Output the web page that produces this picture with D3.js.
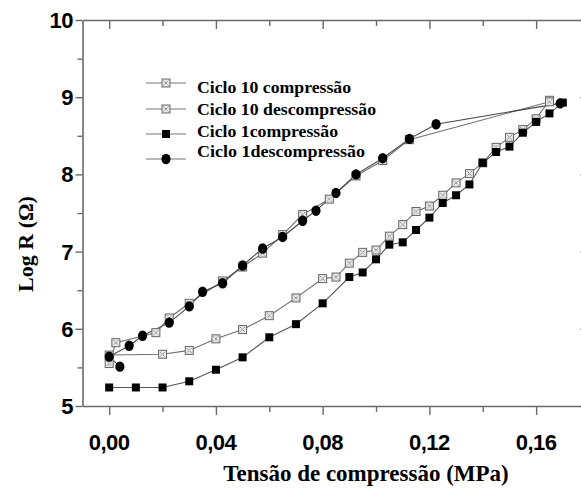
<!DOCTYPE html>
<html>
<head>
<meta charset="utf-8">
<script src="https://cdn.jsdelivr.net/npm/d3@7/dist/d3.min.js"></script>
<style>
  html, body { margin: 0; padding: 0; background: #fff; }
  svg { display: block; }
</style>
</head>
<body>
<svg id="chart" width="581" height="488"></svg>
<script>
// Stress (MPa) and log resistance readings for each loading run
const c10CompStress = [0, .02, .03, .04, .05, .06, .07, .08, .085, .09, .095, .10, .105, .11, .115, .12, .125, .13, .135, .14, .145, .15, .155, .16, .165];
const c10CompLogR   = [5.66, 5.67, 5.72, 5.87, 5.99, 6.17, 6.40, 6.65, 6.67, 6.85, 6.99, 7.02, 7.20, 7.35, 7.52, 7.59, 7.73, 7.89, 8.01, 8.15, 8.35, 8.48, 8.58, 8.72, 8.96];

const c10DecStress = [.165, .1125, .1025, .0925, .0825, .0725, .065, .0575, .05, .0425, .03, .0225, .0175, .0025, 0];
const c10DecLogR   = [8.94, 8.45, 8.18, 7.98, 7.68, 7.48, 7.22, 6.98, 6.80, 6.62, 6.33, 6.14, 5.95, 5.82, 5.55];

const c1CompStress = [0, .01, .02, .03, .04, .05, .06, .07, .08, .09, .095, .10, .105, .11, .115, .12, .125, .13, .135, .14, .145, .15, .155, .16, .165, .17];
const c1CompLogR   = [5.24, 5.24, 5.24, 5.32, 5.47, 5.63, 5.89, 6.06, 6.33, 6.67, 6.73, 6.90, 7.09, 7.12, 7.28, 7.44, 7.63, 7.73, 7.87, 8.15, 8.29, 8.36, 8.54, 8.68, 8.79, 8.93];

const c1DecStress = [.169, .1225, .1125, .1025, .0925, .085, .0775, .0725, .065, .0575, .05, .0425, .035, .03, .0225, .0125, .0075, 0, .004];
const c1DecLogR   = [8.92, 8.65, 8.46, 8.21, 8.00, 7.76, 7.53, 7.40, 7.19, 7.04, 6.82, 6.59, 6.48, 6.29, 6.08, 5.91, 5.78, 5.64, 5.51];

const seriesNames = ["Ciclo 10 compressão", "Ciclo 10 descompressão", "Ciclo 1compressão", "Ciclo 1descompressão"];
const xTickValues = [0, .02, .04, .06, .08, .10, .12, .14, .16, .18];
const xLabelValues = [0, .04, .08, .12, .16];
const yTickValues = [5, 5.5, 6, 6.5, 7, 7.5, 8, 8.5, 9, 9.5, 10];
const yLabelValues = [5, 6, 7, 8, 9, 10];
const xTitle = "Tensão de compressão (MPa)";
const yTitle = "Log R (Ω)";

const svg = d3.select("#chart");

const x = d3.scaleLinear().domain([-0.01, 0.18]).range([82.5, 589.5]);
const y = d3.scaleLinear().domain([5, 10]).range([406, 20]);

const axisColor = "#6a6a6a";
const fmt = d => d3.format(".2f")(d).replace(".", ",");

// frame: bottom and left axes with outward ticks, top and right with inward ticks
function styleAxis(g) {
  g.select(".domain").attr("stroke", axisColor).attr("stroke-width", 1.6);
  g.selectAll(".tick line").attr("stroke", axisColor).attr("stroke-width", 1.4);
}
const isMajorX = d => xLabelValues.some(v => Math.abs(v - d) < 1e-9);
const isMajorY = d => Number.isInteger(d);

const axisBottomG = svg.append("g").attr("transform", `translate(0,${y(5)})`)
  .call(d3.axisBottom(x).tickValues(xTickValues).tickSizeOuter(0).tickFormat(""));
axisBottomG.selectAll(".tick line").attr("y2", d => isMajorX(d) ? 9 : 6);
styleAxis(axisBottomG);

const axisTopG = svg.append("g").attr("transform", `translate(0,${y(10)})`)
  .call(d3.axisTop(x).tickValues(xTickValues).tickSizeOuter(0).tickFormat(""));
axisTopG.selectAll(".tick line").attr("y2", d => isMajorX(d) ? 9 : 6);
styleAxis(axisTopG);

const axisLeftG = svg.append("g").attr("transform", `translate(${x(-0.01)},0)`)
  .call(d3.axisLeft(y).tickValues(yTickValues).tickSizeOuter(0).tickFormat(""));
axisLeftG.selectAll(".tick line").attr("x2", d => isMajorY(d) ? -7 : -5);
styleAxis(axisLeftG);

const axisRightG = svg.append("g").attr("transform", `translate(${x(0.18)},0)`)
  .call(d3.axisRight(y).tickValues(yTickValues).tickSizeOuter(0).tickFormat(""));
axisRightG.selectAll(".tick line").attr("x2", d => isMajorY(d) ? -9 : -6);
styleAxis(axisRightG);

// tick labels
svg.append("g").selectAll("text").data(xLabelValues).join("text")
  .attr("x", d => x(d)).attr("y", 450)
  .attr("text-anchor", "middle")
  .attr("font-family", "Liberation Sans, Arial, sans-serif")
  .attr("font-weight", "bold").attr("font-size", 22)
  .attr("letter-spacing", -0.5)
  .text(fmt);

svg.append("g").selectAll("text").data(yLabelValues).join("text")
  .attr("x", 73).attr("y", d => y(d) + 8)
  .attr("text-anchor", "end")
  .attr("font-family", "Liberation Sans, Arial, sans-serif")
  .attr("font-weight", "bold").attr("font-size", 22)
  .attr("letter-spacing", -0.5)
  .text(d => d);

// axis titles
svg.append("text")
  .attr("x", 366).attr("y", 481)
  .attr("text-anchor", "middle")
  .attr("font-family", "Liberation Serif, Times New Roman, serif")
  .attr("font-weight", "bold").attr("font-size", 23)
  .text(xTitle);

svg.append("text")
  .attr("transform", `translate(33,244) rotate(-90)`)
  .attr("text-anchor", "middle")
  .attr("font-family", "Liberation Serif, Times New Roman, serif")
  .attr("font-weight", "bold").attr("font-size", 22)
  .text(yTitle);

// marker drawing
function crossedSquare(g, cx, cy, s) {
  const h = s / 2;
  g.append("rect").attr("x", cx - h).attr("y", cy - h).attr("width", s).attr("height", s)
    .attr("fill", "#e6e6e6").attr("stroke", "#666").attr("stroke-width", 1);
  const i = 1.6;
  g.append("path")
    .attr("d", `M${cx - h + i},${cy - h + i}L${cx + h - i},${cy + h - i}M${cx + h - i},${cy - h + i}L${cx - h + i},${cy + h - i}`)
    .attr("stroke", "#7a7a7a").attr("stroke-width", 1).attr("stroke-dasharray", "1.2,0.8");
}
function filledSquare(g, cx, cy, s) {
  g.append("rect").attr("x", cx - s / 2).attr("y", cy - s / 2).attr("width", s).attr("height", s)
    .attr("fill", "#000");
}
function filledCircle(g, cx, cy) {
  g.append("ellipse").attr("cx", cx).attr("cy", cy).attr("rx", 4.6).attr("ry", 5.2).attr("fill", "#000");
}

const series = [
  { name: seriesNames[0], xs: c10CompStress, ys: c10CompLogR, marker: (g, a, b) => crossedSquare(g, a, b, 8), line: "#707070" },
  { name: seriesNames[1], xs: c10DecStress,  ys: c10DecLogR,  marker: (g, a, b) => crossedSquare(g, a, b, 8), line: "#707070" },
  { name: seriesNames[2], xs: c1CompStress,  ys: c1CompLogR,  marker: (g, a, b) => filledSquare(g, a, b, 8),  line: "#555" },
  { name: seriesNames[3], xs: c1DecStress,   ys: c1DecLogR,   marker: (g, a, b) => filledCircle(g, a, b),     line: "#444" }
];

const lineGen = d3.line().x(d => x(d[0])).y(d => y(d[1]));
const plot = svg.append("g");

series.forEach(s => {
  const pts = s.xs.map((v, i) => [v, s.ys[i]]);
  plot.append("path").datum(pts).attr("d", lineGen)
    .attr("fill", "none").attr("stroke", s.line).attr("stroke-width", 1.1);
});
series.forEach(s => {
  const g = plot.append("g");
  s.xs.forEach((v, i) => s.marker(g, x(v), y(s.ys[i])));
});

// legend
const legendMarkerY = [83, 109, 134, 159];
const legendTextY = [93, 115, 137, 157];
const legendWidths = [154, 179, 141, 168];
const legend = svg.append("g");
series.forEach((s, i) => {
  const ly = legendMarkerY[i];
  legend.append("line").attr("x1", 146).attr("x2", 186).attr("y1", ly).attr("y2", ly)
    .attr("stroke", "#777").attr("stroke-width", 1.2);
  const g = legend.append("g");
  s.marker(g, 166, ly);
  legend.append("text")
    .attr("x", 197).attr("y", legendTextY[i])
    .attr("font-family", "Liberation Serif, Times New Roman, serif")
    .attr("font-weight", "bold").attr("font-size", 16)
    .attr("textLength", legendWidths[i]).attr("lengthAdjust", "spacingAndGlyphs")
    .text(s.name);
});
</script>
</body>
</html>
